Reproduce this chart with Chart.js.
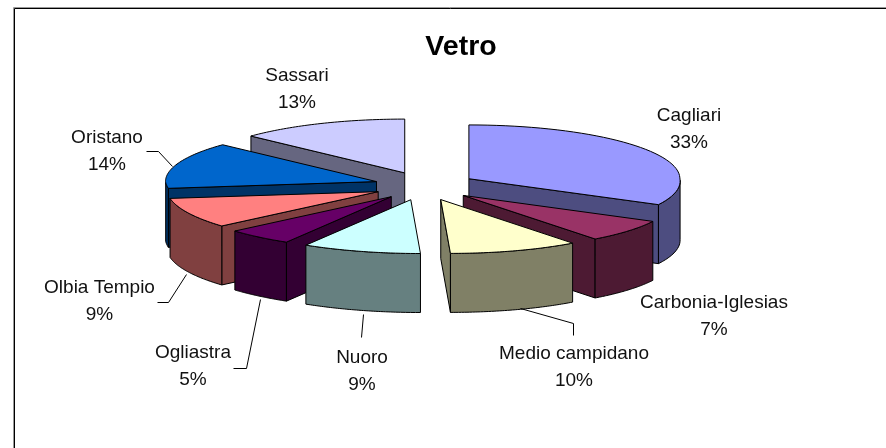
<!DOCTYPE html>
<html><head><meta charset="utf-8">
<style>html,body{margin:0;padding:0;background:#fff}#wrap{position:absolute;left:0;top:0;width:886px;height:448px}</style>
<script src="https://cdn.jsdelivr.net/npm/chart.js@4"></script></head>
<body><div id="wrap"><canvas id="c" width="886" height="448"></canvas></div>
<script>
const chartTitle = "Vetro";
const categories = ["Cagliari","Carbonia-Iglesias","Medio campidano","Nuoro","Ogliastra","Olbia Tempio","Oristano","Sassari"];
const values = [33,7,10,9,5,9,14,13];
const topColors = ["#9999FF","#993366","#FFFFCC","#CCFFFF","#660066","#FF8080","#0066CC","#CCCCFF"];
const wallColors = ["#4D4D80","#4D1A33","#808066","#668080","#330033","#804040","#003366","#666680"];

// label anchor (centre x, first-line baseline) and leader polyline, chart layout only
const labelBoxes = [
  {x:689,y:121,leader:null},
  {x:714,y:308,leader:null},
  {x:574,y:359,leader:[[520,308],[573,323],[573,335]]},
  {x:362,y:363,leader:[[363,314],[361,337]]},
  {x:193,y:358,leader:[[260,299],[246,368],[233,368]]},
  {x:99.5,y:293,leader:[[186,274],[168,302],[157,302]]},
  {x:107,y:143,leader:[[172,166],[158,151],[146,151]]},
  {x:297,y:81,leader:null}
];

const K_RADIUS = 0.255, K_EXPLODE = 0.28, DEPTH = 59, SKEW = 0.18;
const RADIUS = 211, EXPLODE = 51;

const pie3d = {
  id:'pie3d',
  beforeDatasetDraw(chart){
    const ctx = chart.ctx, arcs = chart.getDatasetMeta(0).data;
    const slices = arcs.map((arc,i)=>{
      const p = arc.getProps(['x','y','startAngle','endAngle','outerRadius']);
      const mid = (p.startAngle+p.endAngle)/2;
      const off = arc.options.offset;
      const ox = p.x+Math.cos(mid)*off, oy = p.y+Math.sin(mid)*off*K_EXPLODE;
      const proj = (dx,dy)=>[ox+dx+(dy>0?SKEW*dy*K_RADIUS:0), oy+dy*K_RADIUS];
      const rimAt = a=>proj(p.outerRadius*Math.cos(a),p.outerRadius*Math.sin(a));
      return {i,p,mid,proj,rimAt,apex:proj(0,0),order:Math.sin(mid)};
    }).sort((a,b)=>a.order-b.order);

    const poly = (pts,fill)=>{
      ctx.beginPath();
      pts.forEach((q,n)=>n?ctx.lineTo(q[0],q[1]):ctx.moveTo(q[0],q[1]));
      ctx.closePath();
      ctx.fillStyle=fill; ctx.fill();
      ctx.strokeStyle='#000'; ctx.lineWidth=1; ctx.stroke();
    };
    const down = q=>[q[0],q[1]+DEPTH];

    ctx.save();
    ctx.lineJoin='round';
    for(const s of slices){
      const {p,apex,rimAt,mid} = s;
      const N = 48, rim=[];
      for(let n=0;n<=N;n++) rim.push(rimAt(p.startAngle+(p.endAngle-p.startAngle)*n/N));
      const m = rimAt(mid), wall = wallColors[s.i];
      const walls=[];
      for(const e of [rim[0],rim[N]]){
        const ex=e[0]-apex[0], ey=e[1]-apex[1], mx=m[0]-apex[0], my=m[1]-apex[1];
        const side = ex*my-ey*mx;
        if(ex*side<0 && Math.abs(ex)>0.5) walls.push({pts:[apex,e,down(e),down(apex)],y:(apex[1]+e[1])/2});
      }
      walls.sort((a,b)=>a.y-b.y).forEach(w=>poly(w.pts,wall));
      let run=[];
      const flush=()=>{ if(run.length>1) poly(run.concat(run.slice().reverse().map(down)),wall); run=[]; };
      for(let n=0;n<=N;n++){
        const a=p.startAngle+(p.endAngle-p.startAngle)*n/N;
        if(Math.sin(a)>=-0.001) run.push(rim[n]); else flush();
      }
      flush();
      poly([apex].concat(rim),topColors[s.i]);
    }
    ctx.restore();
    return false;
  },
  afterDraw(chart){
    const ctx = chart.ctx;
    ctx.save();
    ctx.lineWidth=1;
    ctx.strokeStyle='#999';
    ctx.beginPath();ctx.moveTo(13.5,448);ctx.lineTo(13.5,7.5);ctx.lineTo(886,7.5);ctx.stroke();
    ctx.strokeStyle='#000';
    ctx.beginPath();ctx.moveTo(14.5,448);ctx.lineTo(14.5,8.5);ctx.lineTo(886,8.5);ctx.stroke();
    ctx.fillStyle='#111'; ctx.font='19px "Liberation Sans"'; ctx.textAlign='center'; ctx.textBaseline='alphabetic';
    const total = values.reduce((a,b)=>a+b,0);
    categories.forEach((name,i)=>{
      const b = labelBoxes[i];
      ctx.fillText(name,b.x,b.y);
      ctx.fillText(Math.round(values[i]/total*100)+'%',b.x,b.y+26.5);
      if(b.leader){
        ctx.beginPath();
        b.leader.forEach((q,n)=>n?ctx.lineTo(q[0]+.5,q[1]+.5):ctx.moveTo(q[0]+.5,q[1]+.5));
        ctx.stroke();
      }
    });
    ctx.restore();
  }
};

new Chart(document.getElementById('c'),{
  type:'pie',
  data:{labels:categories,datasets:[{data:values,backgroundColor:topColors,offset:EXPLODE,radius:RADIUS,borderWidth:0}]},
  options:{
    responsive:false,animation:false,
    radius:RADIUS,
    layout:{padding:{left:0,right:36,top:0,bottom:76}},
    plugins:{legend:{display:false},tooltip:{enabled:false},title:{display:false}}
  },
  plugins:[pie3d,{
    id:'titleText',
    afterDraw(chart){
      const ctx=chart.ctx; ctx.save();
      ctx.fillStyle='#000'; ctx.font='bold 28.5px "Liberation Sans"'; ctx.textAlign='center';
      ctx.fillText(chartTitle,461,55); ctx.restore();
    }
  }]
});
</script></body></html>
